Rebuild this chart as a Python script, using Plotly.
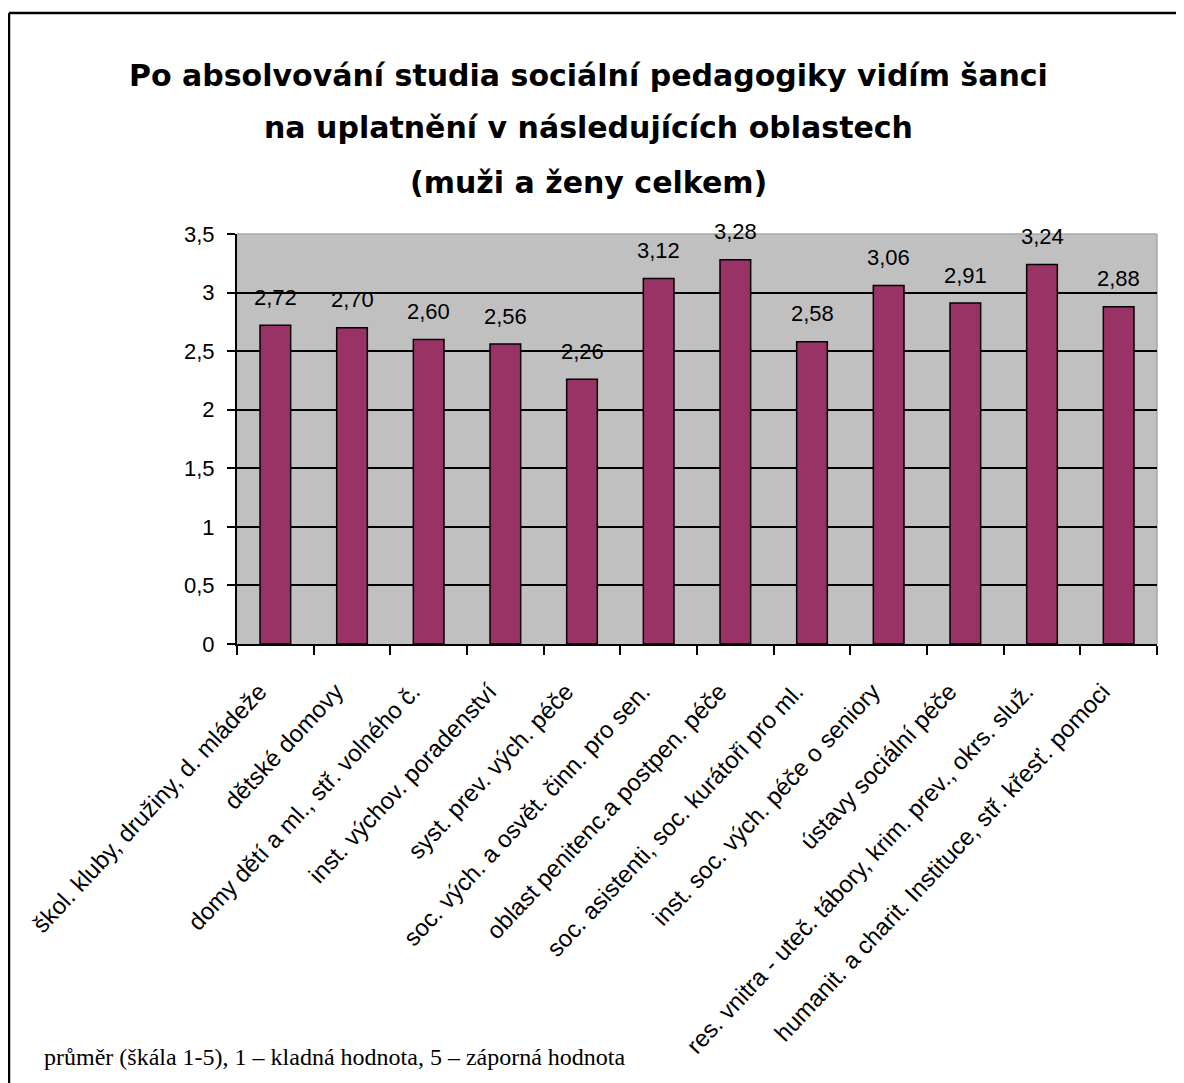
import plotly.graph_objects as go

categories = [
    "škol. kluby, družiny, d. mládeže",
    "dětské domovy",
    "domy dětí a ml., stř. volného č.",
    "inst. výchov. poradenství",
    "syst. prev. vých. péče",
    "soc. vých. a osvět. činn. pro sen.",
    "oblast penitenc.a postpen. péče",
    "soc. asistenti, soc. kurátoři pro ml.",
    "inst. soc. vých. péče o seniory",
    "ústavy sociální péče",
    "res. vnitra - uteč. tábory, krim. prev., okrs. služ.",
    "humanit. a charit. Instituce, stř. křesť. pomoci",
]
values = [2.72, 2.70, 2.60, 2.56, 2.26, 3.12, 3.28, 2.58, 3.06, 2.91, 3.24, 2.88]

title_lines = [
    "Po absolvování studia sociální pedagogiky vidím šanci",
    "na uplatnění v následujících oblastech",
    "(muži a ženy celkem)",
]
footnote = "průměr (škála 1-5), 1 – kladná hodnota, 5 – záporná hodnota"

OFF = 8  # page body margin
W, H = 1184 - OFF, 1083 - OFF
L, R, T, B = 237 - OFF, 1157 - OFF, 234 - OFF, 644 - OFF  # plot area in figure px
pw, ph = R - L, B - T


def px_x(p):
    return (p - OFF - L) / pw


def px_y(p):
    return (B - (p - OFF)) / ph


fig = go.Figure()
fig.add_trace(go.Bar(
    x=categories, y=values,
    marker=dict(color="#993366", line=dict(color="black", width=1.5)),
    width=0.4,
    hoverinfo="x+y",
))

annotations = []
for c, v in zip(categories, values):
    annotations.append(dict(
        x=c, y=v, xref="x", yref="y",
        text=f"{v:.2f}".replace(".", ","),
        showarrow=False, yanchor="middle", yshift=28,
        font=dict(family="Liberation Sans, Arial", size=22, color="black"),
    ))

title_y = [75, 127, 182]
for line, py in zip(title_lines, title_y):
    annotations.append(dict(
        x=px_x(588), y=px_y(py), xref="paper", yref="paper",
        text=f"<b>{line}</b>", showarrow=False,
        xanchor="center", yanchor="middle",
        font=dict(family="DejaVu Sans", size=30, color="black"),
    ))

annotations.append(dict(
    x=px_x(42), y=px_y(1057), xref="paper", yref="paper",
    text=footnote, showarrow=False, xanchor="left", yanchor="middle",
    font=dict(family="Liberation Serif, Times New Roman", size=24, color="black"),
))

shapes = [
    # outer frame (top and left visible)
    dict(type="line", xref="paper", yref="paper",
         x0=px_x(9), x1=px_x(1200), y0=px_y(13), y1=px_y(13),
         line=dict(color="black", width=2.5)),
    dict(type="line", xref="paper", yref="paper",
         x0=px_x(9), x1=px_x(9), y0=px_y(13), y1=px_y(1100),
         line=dict(color="black", width=2.5)),
    # light plot-area border top/right
    dict(type="line", xref="paper", yref="paper", x0=0, x1=1, y0=1, y1=1,
         line=dict(color="#a8a8a8", width=1.5), layer="below"),
    dict(type="line", xref="paper", yref="paper", x0=1, x1=1, y0=0, y1=1,
         line=dict(color="#a8a8a8", width=1.5), layer="below"),
]

fig.update_layout(
    width=W, height=H,
    margin=dict(l=L, r=W - R, t=T, b=H - B, autoexpand=False),
    paper_bgcolor="white",
    plot_bgcolor="#C0C0C0",
    separators=", ",
    showlegend=False,
    annotations=annotations,
    shapes=shapes,
    font=dict(family="Liberation Sans, Arial", color="black"),
)

fig.update_xaxes(
    type="category",
    tickson="boundaries",
    ticks="outside", ticklen=9, tickwidth=2, tickcolor="black",
    showline=True, linecolor="black", linewidth=2,
    showgrid=False,
    tickangle=-47,
    ticklabelstandoff=22,
    ticklabelshift=-16,
    tickfont=dict(family="Liberation Sans, Arial", size=24, color="black"),
    range=[-0.5, len(categories) - 0.5],
)
fig.update_yaxes(
    range=[0, 3.5], dtick=0.5, tick0=0,
    ticks="outside", ticklen=8, tickwidth=2, tickcolor="black",
    showline=True, linecolor="black", linewidth=2,
    showgrid=True, gridcolor="black", gridwidth=1.5,
    zeroline=False,
    ticklabelstandoff=8,
    tickfont=dict(family="Liberation Sans, Arial", size=22, color="black"),
)

fig.write_html("out.html")
